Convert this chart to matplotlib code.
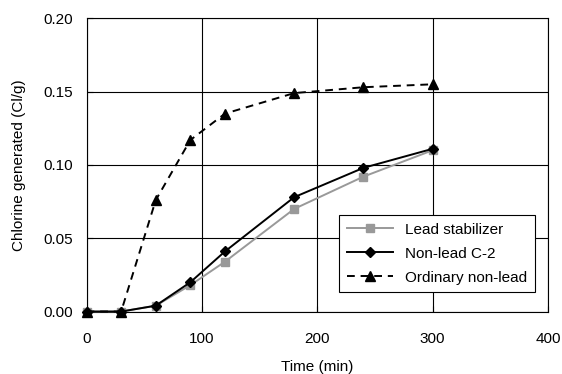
import numpy as np
import matplotlib.pyplot as plt

plt.rcParams['font.family'] = ['Liberation Sans', 'DejaVu Sans']

time = [0, 30, 60, 90, 120, 180, 240, 300]
lead_stabilizer = [0.0, 0.0, 0.004, 0.018, 0.034, 0.070, 0.092, 0.110]
non_lead_c2 = [0.0, 0.0, 0.004, 0.020, 0.041, 0.078, 0.098, 0.111]
ordinary_non_lead = [0.0, 0.0, 0.076, 0.117, 0.135, 0.149, 0.153, 0.155]

fig = plt.figure(figsize=(5.62, 3.74), dpi=100)
ax = fig.add_axes([0.154, 0.167, 0.821, 0.784])

ax.plot(time, lead_stabilizer, '-', color='#999999', lw=1.4, marker='s', ms=6,
        mfc='#999999', mec='#999999', label='Lead stabilizer', zorder=3, clip_on=False)
ax.plot(time, non_lead_c2, '-', color='black', lw=1.4, marker='D', ms=5,
        label='Non-lead C-2', zorder=4, clip_on=False)
ax.plot(time, ordinary_non_lead, '--', color='black', lw=1.4, marker='^', ms=7,
        dashes=(4, 3), label='Ordinary non-lead', zorder=4, clip_on=False)

ax.set_xlim(0, 400)
ax.set_ylim(0, 0.20)
ax.set_xticks([0, 100, 200, 300, 400])
ax.set_yticks([0.0, 0.05, 0.10, 0.15, 0.20])
ax.set_yticklabels(['0.00', '0.05', '0.10', '0.15', '0.20'])
ax.tick_params(direction='in', length=4, labelsize=11, color='black')
ax.tick_params(axis='x', pad=15)
ax.tick_params(axis='y', pad=10)
ax.grid(True, color='black', lw=0.8)
for s in ax.spines.values():
    s.set_color('black')
    s.set_linewidth(0.8)

ax.set_xlabel('Time (min)', fontsize=11, labelpad=10)
ax.set_ylabel('Chlorine generated (Cl/g)', fontsize=11, labelpad=12)

leg = ax.legend(loc='lower right', bbox_to_anchor=(0.988, 0.04), fontsize=11,
                frameon=True, fancybox=False, edgecolor='black', framealpha=1,
                handlelength=3.0, borderpad=0.5, labelspacing=0.65)
leg.get_frame().set_linewidth(0.8)

fig.savefig('out.png', dpi=100)
